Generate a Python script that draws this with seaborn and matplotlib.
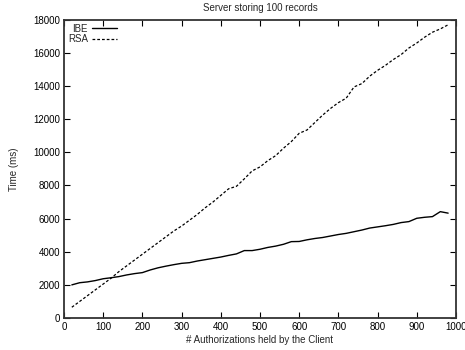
import numpy as np
import pandas as pd
import matplotlib
matplotlib.use('Agg')
import matplotlib.pyplot as plt
import seaborn as sns

# ─── data ───
auths = list(range(20, 1000, 20))
ibe_ms = [2000, 2130, 2180, 2260, 2370, 2430, 2500, 2600, 2680, 2740,
          2900, 3030, 3130, 3220, 3300, 3340, 3440, 3520, 3600, 3680,
          3780, 3870, 4070, 4070, 4150, 4260, 4340, 4450, 4610, 4620,
          4720, 4800, 4860, 4950, 5040, 5110, 5210, 5310, 5430, 5500,
          5570, 5650, 5760, 5820, 6020, 6080, 6120, 6420, 6330]
rsa_ms = [650, 1000, 1350, 1700, 2050, 2400, 2800, 3150, 3500, 3850,
          4200, 4550, 4900, 5250, 5550, 5900, 6250, 6650, 7000, 7400,
          7800, 7950, 8400, 8880, 9120, 9500, 9800, 10250, 10650, 11150,
          11350, 11800, 12250, 12650, 13000, 13270, 13950, 14150, 14600, 14950,
          15250, 15600, 15900, 16300, 16600, 16950, 17250, 17450, 17700]
x_ticks = list(range(0, 1001, 100))
y_ticks = list(range(0, 18001, 2000))

df = pd.DataFrame({'auths': auths, 'IBE': ibe_ms, 'RSA': rsa_ms})

# ─── style ───
sns.set_style('ticks')
plt.rcParams['font.family'] = ['Liberation Sans', 'DejaVu Sans']
plt.rcParams['font.size'] = 7

fig = plt.figure(figsize=(4.65, 3.5), dpi=100)
ax = fig.add_axes([0.1376, 0.0914, 0.843, 0.852])

sns.lineplot(data=df, x='auths', y='IBE', ax=ax, color='black',
             linewidth=1.0, label='IBE')
sns.lineplot(data=df, x='auths', y='RSA', ax=ax, color='black',
             linewidth=0.9, linestyle=(0, (2.2, 1.6)), label='RSA')

ax.set_xlim(0, 1000)
ax.set_ylim(0, 18000)
ax.set_xticks(x_ticks)
ax.set_yticks(y_ticks)
ax.tick_params(direction='in', length=4, width=0.8, top=True, right=True,
               labelsize=7, pad=3, colors='black')
for s in ax.spines.values():
    s.set_linewidth(1.3)
    s.set_color('#333333')

ax.set_title('Server storing 100 records', fontsize=7, pad=6)
ax.set_xlabel('# Authorizations held by the Client', fontsize=7, labelpad=2)
ax.set_ylabel('Time (ms)', fontsize=7, labelpad=10)

ax.legend(loc='upper left', markerfirst=False, frameon=False, fontsize=7,
          handlelength=2.6, handletextpad=0.4, labelspacing=0.05,
          borderaxespad=0.2, borderpad=0.2)

fig.savefig('out.png', dpi=100)
